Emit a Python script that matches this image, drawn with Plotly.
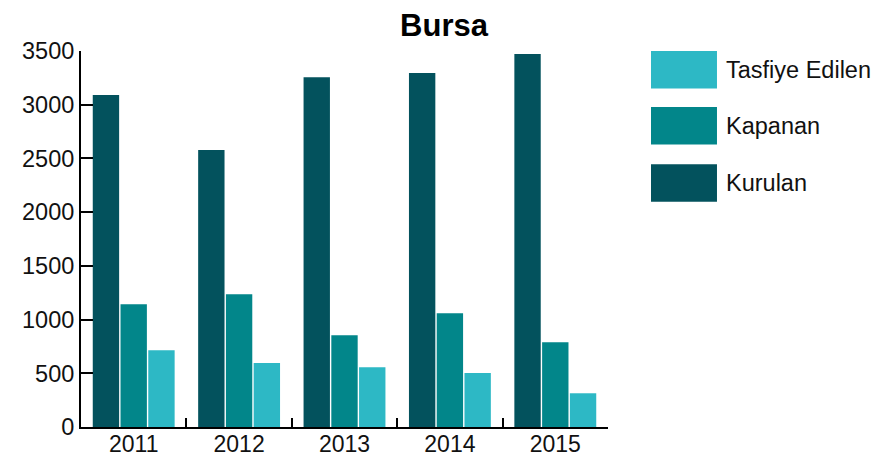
import plotly.graph_objects as go

years = ["2011", "2012", "2013", "2014", "2015"]
kurulan = [3090, 2578, 3255, 3295, 3472]
kapanan = [1143, 1236, 854, 1059, 789]
tasfiye = [714, 596, 556, 503, 314]

series_names = ["Kurulan", "Kapanan", "Tasfiye Edilen"]
series_values = [kurulan, kapanan, tasfiye]
colors = ["#03525D", "#02868A", "#2DB8C5"]

y_ticks = [0, 500, 1000, 1500, 2000, 2500, 3000, 3500]

FONT = "Liberation Sans, Arial, Helvetica, sans-serif"

fig = go.Figure()
for name, vals, col in zip(series_names, series_values, colors):
    fig.add_trace(go.Bar(x=years, y=vals, name=name, marker=dict(color=col, line=dict(width=0)),
                         showlegend=False))

# custom legend (large swatches) – top item is Tasfiye Edilen
legend_items = list(zip(series_names, colors))[::-1]
box_top = [1.0, 0.851, 0.699]
box_h = 0.10
for (name, col), top in zip(legend_items, box_top):
    fig.add_shape(type="rect", xref="paper", yref="paper",
                  x0=1.0816, x1=1.2068, y0=top - box_h, y1=top,
                  fillcolor=col, line=dict(width=0))
    fig.add_annotation(xref="paper", yref="paper", x=1.2205, y=top - box_h / 2,
                       text=name, showarrow=False, xanchor="left", yanchor="middle",
                       font=dict(size=23.5, color="#111", family=FONT))

fig.update_layout(
    width=875, height=457,
    margin=dict(l=81, r=267, t=51, b=30),
    paper_bgcolor="white", plot_bgcolor="white",
    barmode="group", bargap=0.21, bargroupgap=0.05,
    title=dict(text="<b>Bursa</b>", x=444 / 875, xanchor="center", y=1 - 25 / 457, yanchor="middle",
               font=dict(size=31, color="black", family=FONT)),
    font=dict(family=FONT, size=23, color="#111"),
)
fig.update_xaxes(type="category", showline=True, linecolor="black", linewidth=2,
                 ticks="inside", tickson="boundaries", ticklen=9, tickwidth=2, tickcolor="black",
                 showgrid=False, automargin=False, ticklabelstandoff=-5,
                 tickfont=dict(size=23, color="#111"))
fig.update_yaxes(range=[0, 3500], tickvals=y_ticks, showline=True, linecolor="black", linewidth=2,
                 ticks="inside", ticklen=12, tickwidth=2, tickcolor="black",
                 showgrid=False, zeroline=False, automargin=False, tickfont=dict(size=23.5, color="#111"))

fig.write_html("out.html", config={"displayModeBar": False},
               post_script="document.body.style.margin='0';document.body.style.overflow='hidden';")
